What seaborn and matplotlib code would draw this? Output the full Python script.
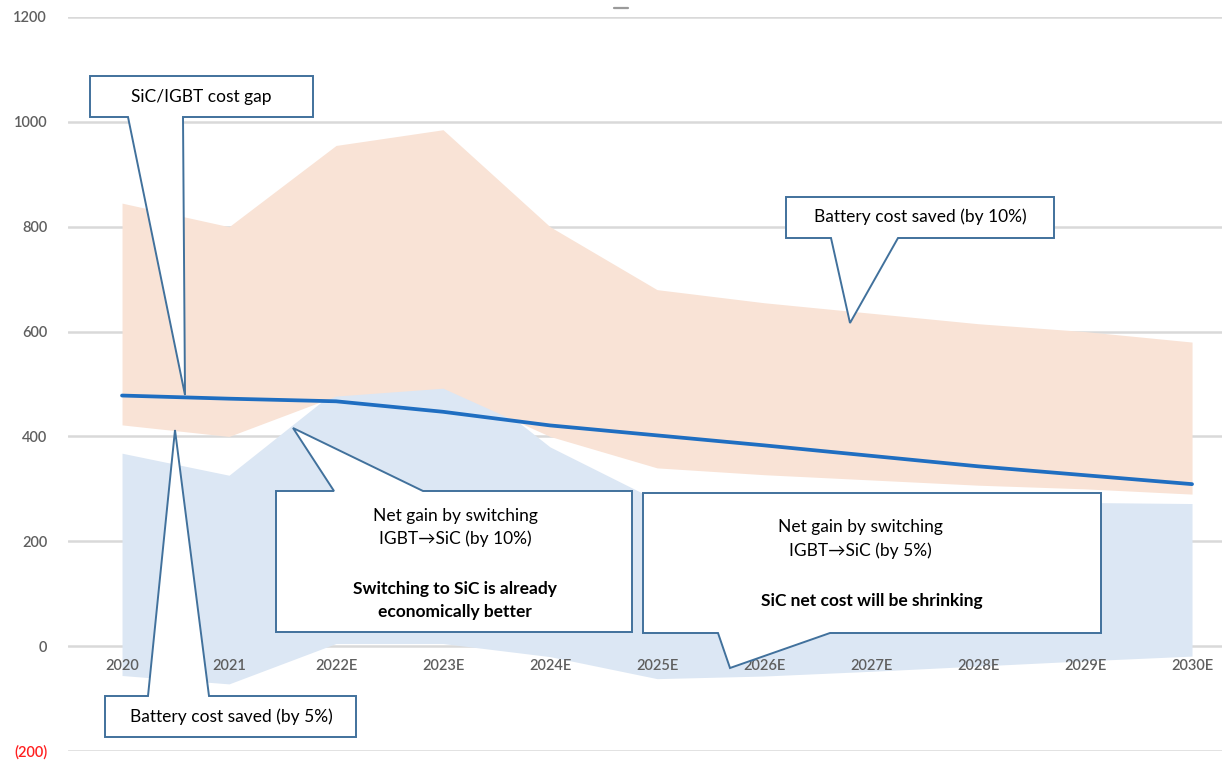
import numpy as np
import pandas as pd
import matplotlib
matplotlib.use("Agg")
import matplotlib.pyplot as plt
from matplotlib.patches import Polygon
from matplotlib.lines import Line2D
import seaborn as sns

# ---- data -------------------------------------------------------------
years = ["2020", "2021", "2022E", "2023E", "2024E", "2025E",
         "2026E", "2027E", "2028E", "2029E", "2030E"]
cost_gap = [478, 472, 467, 447, 421, 402, 383, 363, 343, 326, 309]
battery_saved_5 = [422, 400, 477, 492, 400, 340, 327, 317, 307, 300, 290]
battery_saved_10 = [845, 800, 955, 985, 800, 680, 655, 635, 615, 600, 580]
net_gain_5 = [-56, -72, 5, 5, -20, -62, -57, -48, -38, -28, -19]
net_gain_10 = [368, 326, 488, 540, 380, 278, 274, 274, 273, 274, 272]
y_ticks = [-200, 0, 200, 400, 600, 800, 1000, 1200]
y_tick_labels = ["(200)", "0", "200", "400", "600", "800", "1000", "1200"]

df = pd.DataFrame({
    "pos": np.arange(len(years)),
    "year": years,
    "gap": cost_gap,
    "bat5": battery_saved_5,
    "bat10": battery_saved_10,
    "net5": net_gain_5,
    "net10": net_gain_10,
})

# ---- style ------------------------------------------------------------
sns.set_theme(style="white")
plt.rcParams["font.family"] = ["Lato", "DejaVu Sans"]

W, H = 1222, 763
fig = plt.figure(figsize=(W / 100, H / 100), dpi=100)
ax = fig.add_axes([68 / W, (H - 751) / H, (W - 68) / W, (751 - 17) / H])

PEACH = "#F9E3D6"
LIGHT_BLUE = "#DCE7F4"
LINE_BLUE = "#1F6EC1"
EDGE = "#41719C"
GRID = "#D9D9D9"
TICK_GREY = "#5F5F5F"

# net gain band (below) and battery-saving band (on top)
ax.fill_between(df["pos"], df["net5"], df["net10"], color=LIGHT_BLUE, lw=0, zorder=1)
ax.fill_between(df["pos"], df["bat5"], df["bat10"], color=PEACH, lw=0, zorder=2)

# SiC / IGBT cost gap
sns.lineplot(data=df, x="pos", y="gap", ax=ax, color=LINE_BLUE, lw=2.7,
             zorder=3, legend=False)

# ---- axes ---------------------------------------------------------------
ax.set_xlim(-0.505, 10.28)
ax.set_ylim(-200, 1200)
ax.set_xlabel("")
ax.set_ylabel("")
ax.set_yticks(y_ticks)
ax.set_yticklabels(y_tick_labels)
ax.set_xticks(df["pos"])
ax.set_xticklabels(years)
ax.yaxis.grid(True, color=GRID, lw=1.8)
ax.xaxis.grid(False)
ax.set_axisbelow(True)
# category labels sit on top of the shaded bands
ax.xaxis.set_zorder(5)
for side in ["top", "right", "left"]:
    ax.spines[side].set_visible(False)
ax.spines["bottom"].set_position(("data", 0))
ax.spines["bottom"].set_visible(False)
ax.tick_params(axis="y", length=0, pad=15, labelsize=10.5, labelcolor=TICK_GREY)
ax.tick_params(axis="x", length=0, pad=9, labelsize=10.5, labelcolor=TICK_GREY)
for lbl in ax.get_yticklabels():
    lbl.set_fontweight("semibold")
    if lbl.get_text().startswith("("):
        lbl.set_color("#FF2020")
for lbl in ax.get_xticklabels():
    lbl.set_fontweight("semibold")

# small dash left over from the chart title area
fig.add_artist(Line2D([614 / W, 628 / W], [1 - 8 / H, 1 - 8 / H],
                      color="#9A9A9A", lw=1.6))


# ---- callouts (figure pixel layout) -------------------------------------
def fp(x, y):
    return (x / W, 1 - y / H)


def callout(box, base, tip, side):
    x0, y0, x1, y1 = box
    b0, b1 = base
    if side == "bottom":
        pts = [(x0, y0), (x1, y0), (x1, y1), (b1, y1), tip, (b0, y1), (x0, y1)]
    else:
        pts = [(x0, y0), (b0, y0), tip, (b1, y0), (x1, y0), (x1, y1), (x0, y1)]
    poly = Polygon([fp(*p) for p in pts], closed=True, facecolor="white",
                   edgecolor=EDGE, lw=1.4, transform=fig.transFigure,
                   clip_on=False, zorder=10, joinstyle="miter")
    ax.add_patch(poly)


def label(x, y, s, bold=False, size=12.5):
    fig.text(x / W, 1 - y / H, s, ha="center", va="center", fontsize=size,
             fontweight="bold" if bold else "normal", color="black",
             family=["Lato", "DejaVu Sans"], zorder=12)


callout((90, 76, 313, 117), (128, 183), (185, 395), "bottom")
label(201, 97, "SiC/IGBT cost gap")

callout((786, 197, 1054, 238), (831, 898), (850, 323), "bottom")
label(920, 217, "Battery cost saved (by 10%)")

callout((105, 696, 356, 737), (148, 209), (175, 430), "top")
label(231, 717, "Battery cost saved (by 5%)")

callout((276, 491, 632, 632), (334, 423), (293, 428), "top")
label(455, 516, "Net gain by switching")
label(455, 539, "IGBT\u2192SiC (by 10%)")
label(455, 589, "Switching to SiC is already", bold=True)
label(455, 612, "economically better", bold=True)

callout((643, 493, 1101, 633), (718, 830), (730, 668), "bottom")
label(860, 527, "Net gain by switching")
label(860, 551, "IGBT\u2192SiC (by 5%)")
label(872, 601, "SiC net cost will be shrinking", bold=True)

fig.savefig("out.png", dpi=100, facecolor="white")
